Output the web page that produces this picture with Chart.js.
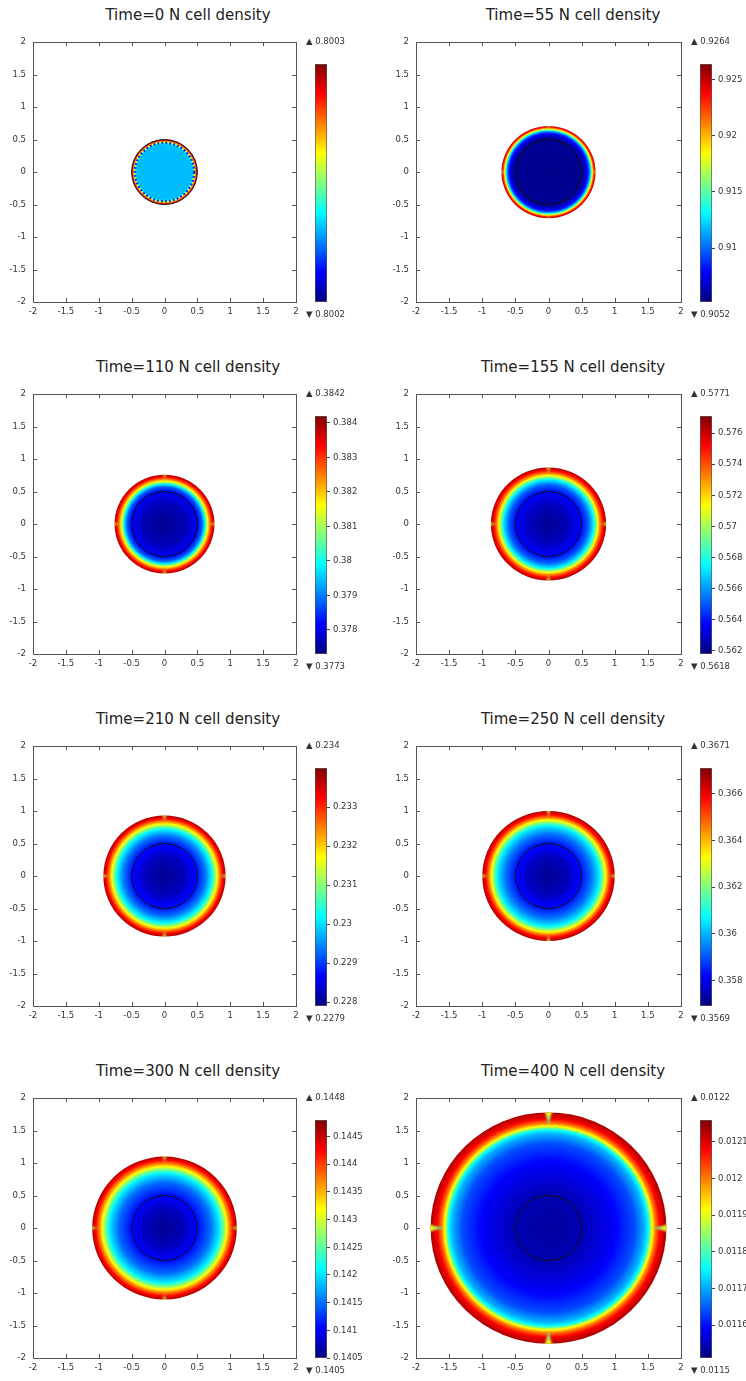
<!DOCTYPE html>
<html lang="en">
<head>
<meta charset="UTF-8">
<title>N cell density</title>
<script src="https://cdn.jsdelivr.net/npm/chart.js"></script>
<style>
  body { margin: 0; background: #fff; width: 746px; height: 1381px; overflow: hidden; position: relative; }
  .title { position: absolute; font-family: 'DejaVu Sans', sans-serif; font-size: 15px; line-height: 18px; color: #222; white-space: nowrap; transform: translateX(-50%); }
  canvas { position: absolute; }
</style>
</head>
<body>
<script>
// one panel per time step
const panelTimes = [0, 55, 110, 155, 210, 250, 300, 400];
const axisTicks = [-2, -1.5, -1, -0.5, 0, 0.5, 1, 1.5, 2];

// colour range of each panel (bar ends), ▲/▼ show them rounded
const cbLow  = [0.8002, 0.9052, 0.3773, 0.5618, 0.2279, 0.3569, 0.1405, 0.01151];
const cbHigh = [0.8003, 0.9264, 0.3842, 0.5771, 0.234, 0.3671, 0.1448, 0.01216];
const cbTicks = [
  [],
  [0.91, 0.915, 0.92, 0.925],
  [0.378, 0.379, 0.38, 0.381, 0.382, 0.383, 0.384],
  [0.562, 0.564, 0.566, 0.568, 0.57, 0.572, 0.574, 0.576],
  [0.228, 0.229, 0.23, 0.231, 0.232, 0.233],
  [0.358, 0.36, 0.362, 0.364, 0.366],
  [0.1405, 0.141, 0.1415, 0.142, 0.1425, 0.143, 0.1435, 0.144, 0.1445],
  [0.0116, 0.0117, 0.0118, 0.0119, 0.012, 0.0121]
];

// radial profile: radius and level (0 = bottom of bar, 1 = top)
const outerRadius = [0.5, 0.71, 0.76, 0.87, 0.93, 1.0, 1.1, 1.78];
const profileR = [
  [0, 0.42, 0.44, 0.455, 0.47, 0.485, 0.5],
  [0, 0.5, 0.55, 0.6, 0.63, 0.655, 0.68, 0.71],
  [0, 0.3, 0.5, 0.57, 0.61, 0.645, 0.68, 0.72, 0.76],
  [0, 0.3, 0.5, 0.6, 0.68, 0.73, 0.77, 0.82, 0.87],
  [0, 0.3, 0.5, 0.62, 0.72, 0.78, 0.83, 0.88, 0.93],
  [0, 0.3, 0.5, 0.65, 0.77, 0.84, 0.89, 0.94, 1.0],
  [0, 0.3, 0.5, 0.7, 0.84, 0.92, 0.98, 1.04, 1.1],
  [0, 0.5, 1.0, 1.3, 1.45, 1.51, 1.56, 1.61, 1.68, 1.78]
];
const profileLevel = [
  [0.31, 0.31, 0.4, 0.6, 0.7, 0.85, 0.97],
  [0.01, 0.02, 0.06, 0.16, 0.3, 0.55, 0.8, 0.95],
  [0.02, 0.05, 0.12, 0.22, 0.35, 0.55, 0.72, 0.86, 0.96],
  [0.02, 0.06, 0.13, 0.22, 0.36, 0.55, 0.72, 0.86, 0.96],
  [0.02, 0.06, 0.14, 0.24, 0.37, 0.55, 0.72, 0.86, 0.96],
  [0.02, 0.06, 0.14, 0.24, 0.36, 0.55, 0.72, 0.86, 0.96],
  [0.02, 0.06, 0.13, 0.23, 0.36, 0.55, 0.72, 0.86, 0.96],
  [0.03, 0.05, 0.12, 0.2, 0.3, 0.38, 0.6, 0.75, 0.88, 0.96]
];
// lighter wedges on the rim at the four axis points
const notchDepth = [0, 0.07, 0.09, 0.1, 0.1, 0.1, 0.1, 0.22];
const notchWidth = [0, 0.03, 0.035, 0.04, 0.04, 0.04, 0.04, 0.075];
const speckleRadius = [0.45, 0, 0, 0, 0, 0, 0, 0];
const domainRadius = 0.5;

const tickFont = { family: 'DejaVu Sans', size: 8.5 };
const textColor = '#333';

function jetRGB(t) {
  t = Math.max(0, Math.min(1, t));
  const c = v => Math.round(255 * Math.max(0, Math.min(1, v)));
  return [c(1.5 - Math.abs(4 * t - 3)), c(1.5 - Math.abs(4 * t - 2)), c(1.5 - Math.abs(4 * t - 1))];
}
function jet(t, a) {
  const [r, g, b] = jetRGB(t);
  return a === undefined ? `rgb(${r},${g},${b})` : `rgba(${r},${g},${b},${a})`;
}

const diskPlugin = {
  id: 'disk',
  beforeDatasetsDraw(chart, args, opts) {
    const i = opts.panel;
    const xs = chart.scales.x, ys = chart.scales.y, ctx = chart.ctx;
    const cx = xs.getPixelForValue(0), cy = ys.getPixelForValue(0);
    const R = outerRadius[i];
    const rx = xs.getPixelForValue(R) - cx;
    const ry = cy - ys.getPixelForValue(R);
    const pxu = rx / R;

    ctx.save();
    ctx.translate(cx, cy);
    ctx.scale(1, ry / rx);
    const g = ctx.createRadialGradient(0, 0, 0, 0, 0, rx);
    const rr = profileR[i], lv = profileLevel[i];
    for (let k = 0; k < rr.length - 1; k++) {
      for (let s = 0; s < 8; s++) {
        const f = s / 8;
        g.addColorStop((rr[k] + f * (rr[k + 1] - rr[k])) / R, jet(lv[k] + f * (lv[k + 1] - lv[k])));
      }
    }
    g.addColorStop(1, jet(lv[lv.length - 1]));
    ctx.beginPath();
    ctx.arc(0, 0, rx, 0, 2 * Math.PI);
    ctx.fillStyle = g;
    ctx.fill();

    if (notchDepth[i] > 0) {
      ctx.save();
      ctx.clip();
      ctx.filter = 'blur(0.8px)';
      for (let a = 0; a < 4; a++) {
        ctx.save();
        ctx.rotate(a * Math.PI / 2);
        const x0 = (R - notchDepth[i]) * pxu, x1 = (R + 0.04) * pxu, hw = notchWidth[i] * pxu;
        const lg = ctx.createLinearGradient(x0, 0, rx, 0);
        lg.addColorStop(0, jet(0.4, 0.2));
        lg.addColorStop(0.3, jet(0.45, 1));
        lg.addColorStop(0.7, jet(0.55, 1));
        lg.addColorStop(1, jet(0.63, 1));
        ctx.beginPath();
        ctx.moveTo(x0, 0);
        ctx.quadraticCurveTo(x1 - hw * 0.8, -hw * 0.4, x1, -hw);
        ctx.lineTo(x1, hw);
        ctx.quadraticCurveTo(x1 - hw * 0.8, hw * 0.4, x0, 0);
        ctx.closePath();
        ctx.fillStyle = lg;
        ctx.fill();
        ctx.restore();
      }
      ctx.restore();
    }

    if (speckleRadius[i] > 0) {
      ctx.beginPath();
      ctx.arc(0, 0, speckleRadius[i] * pxu, 0, 2 * Math.PI);
      ctx.setLineDash([2, 2]);
      ctx.lineWidth = 2.5;
      ctx.strokeStyle = jet(0.18);
      ctx.stroke();
      ctx.setLineDash([]);
    }
    ctx.restore();

    // geometry boundary r = 0.5
    ctx.save();
    ctx.beginPath();
    ctx.ellipse(cx, cy, xs.getPixelForValue(domainRadius) - cx, cy - ys.getPixelForValue(domainRadius), 0, 0, 2 * Math.PI);
    ctx.lineWidth = 1;
    ctx.strokeStyle = '#111';
    ctx.stroke();
    ctx.restore();
  }
};

const framePlugin = {
  id: 'frame',
  afterDraw(chart) {
    const { ctx, chartArea: ca, scales } = chart;
    ctx.save();
    ctx.strokeStyle = '#555';
    ctx.lineWidth = 1;
    ctx.strokeRect(Math.round(ca.left) + 0.5, Math.round(ca.top) + 0.5, Math.round(ca.right - ca.left), Math.round(ca.bottom - ca.top));
    ctx.beginPath();
    scales.x.ticks.forEach(t => {
      const x = Math.round(scales.x.getPixelForValue(t.value)) + 0.5;
      ctx.moveTo(x, ca.bottom); ctx.lineTo(x, ca.bottom - 4);
      ctx.moveTo(x, ca.top); ctx.lineTo(x, ca.top + 4);
    });
    scales.y.ticks.forEach(t => {
      const y = Math.round(scales.y.getPixelForValue(t.value)) + 0.5;
      ctx.moveTo(ca.left, y); ctx.lineTo(ca.left + 4, y);
      ctx.moveTo(ca.right, y); ctx.lineTo(ca.right - 4, y);
    });
    ctx.stroke();
    ctx.restore();
  }
};

const extremesPlugin = {
  id: 'extremes',
  afterDraw(chart, args, opts) {
    const i = opts.panel, ca = chart.chartArea, ctx = chart.ctx;
    const fmt = v => String(parseFloat(v.toFixed(4)));
    ctx.save();
    ctx.font = '8.5px "DejaVu Sans"';
    ctx.fillStyle = textColor;
    ctx.textAlign = 'left';
    ctx.textBaseline = 'middle';
    ctx.fillText('▲ ' + fmt(cbHigh[i]), ca.left - 9, ca.top - 22);
    ctx.fillText('▼ ' + fmt(cbLow[i]), ca.left - 9, ca.bottom + 13);
    ctx.restore();
  }
};

function addCanvas(left, top, w, h) {
  const c = document.createElement('canvas');
  c.width = w; c.height = h;
  c.style.left = left + 'px'; c.style.top = top + 'px';
  c.style.width = w + 'px'; c.style.height = h + 'px';
  document.body.appendChild(c);
  return c;
}

panelTimes.forEach((time, i) => {
  const col = i % 2, row = Math.floor(i / 2);
  const baseX = col * 373, baseY = row * 352;

  const title = document.createElement('div');
  title.className = 'title';
  title.textContent = `Time=${time} N cell density`;
  title.style.left = (col ? 573 : 188) + 'px';
  title.style.top = (baseY + 6) + 'px';
  document.body.appendChild(title);

  const yAxisWidth = col ? 43 : 33;
  const mainW = col ? 320 : 308;
  new Chart(addCanvas(baseX, baseY + 30, mainW, 292), {
    type: 'scatter',
    data: { datasets: [] },
    options: {
      responsive: false,
      animation: false,
      layout: { padding: { top: 8, right: 12, left: 0, bottom: 0 } },
      plugins: { legend: { display: false }, tooltip: { enabled: false }, disk: { panel: i } },
      scales: {
        x: {
          type: 'linear', min: -2, max: 2,
          afterBuildTicks: s => { s.ticks = axisTicks.map(v => ({ value: v })); },
          afterFit: s => { s.height = 20; },
          grid: { display: false, drawTicks: false },
          border: { display: false },
          ticks: { font: tickFont, color: textColor, padding: 5, maxRotation: 0, autoSkip: false, callback: v => String(v) }
        },
        y: {
          type: 'linear', min: -2, max: 2,
          afterBuildTicks: s => { s.ticks = axisTicks.map(v => ({ value: v })); },
          afterFit: s => { s.width = yAxisWidth; },
          grid: { display: false, drawTicks: false },
          border: { display: false },
          ticks: { font: tickFont, color: textColor, padding: 7, autoSkip: false, callback: v => String(v) }
        }
      }
    },
    plugins: [diskPlugin, framePlugin]
  });

  // colour bar
  const cbW = col ? 56 : 68;
  new Chart(addCanvas(col ? 690 : 305, baseY + 34, cbW, 288), {
    type: 'bar',
    data: {
      labels: [''],
      datasets: [{
        data: [[cbLow[i], cbHigh[i]]],
        backgroundColor: c => {
          const ca = c.chart.chartArea;
          if (!ca) return jet(0.5);
          const g = c.chart.ctx.createLinearGradient(0, ca.bottom, 0, ca.top);
          for (let k = 0; k <= 16; k++) g.addColorStop(k / 16, jet(k / 16));
          return g;
        },
        borderColor: '#555',
        borderWidth: 1,
        borderSkipped: false,
        barPercentage: 1,
        categoryPercentage: 1
      }]
    },
    options: {
      responsive: false,
      animation: false,
      layout: { padding: { left: 10, top: 30, bottom: 20, right: 0 } },
      plugins: { legend: { display: false }, tooltip: { enabled: false }, extremes: { panel: i } },
      scales: {
        x: { display: false },
        y: {
          position: 'right', min: cbLow[i], max: cbHigh[i],
          afterBuildTicks: s => { s.ticks = cbTicks[i].map(v => ({ value: v })); },
          afterFit: s => { s.width = cbW - 10 - 12; },
          grid: { drawOnChartArea: false, drawTicks: true, tickLength: 3, color: '#444' },
          border: { display: false },
          ticks: { font: tickFont, color: textColor, padding: 3, autoSkip: false, callback: v => String(v) }
        }
      }
    },
    plugins: [extremesPlugin]
  });
});
</script>
</body>
</html>
